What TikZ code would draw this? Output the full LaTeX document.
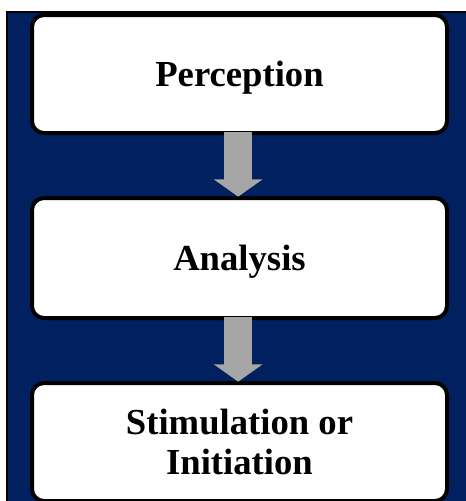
\documentclass[tikz,border=0pt]{standalone}
\usepackage{fontspec}
\setmainfont{Liberation Serif}
\usetikzlibrary{arrows.meta}
\definecolor{navybg}{RGB}{0,32,96}
\definecolor{arrowgray}{RGB}{166,166,166}
\tikzset{
  stagebox/.style={draw=black, fill=white, line width=3pt, rounded corners=9pt,
    minimum width=311.25pt, minimum height=88.5pt, align=center,
    font=\fontsize{27.5}{30}\selectfont\bfseries, inner sep=0pt},
  flowarrow/.style={draw=arrowgray, line width=21pt, line cap=butt,
    -{Triangle[width=36pt,length=13pt]}}
}
\begin{document}
\begin{tikzpicture}[x=0.75pt,y=-0.75pt]
\useasboundingbox (0,0) rectangle (466,501);
\fill[white] (0,0) rectangle (466,501);
\fill[navybg] (7,12) rectangle (466,501);
\draw[black, line width=1.5pt] (7,501) -- (7,12) -- (466,12);
\node[stagebox, text depth=0pt] (b1) at (239.5,74) {Perception};
\node[stagebox, text depth=0pt, minimum height=90pt] (b2) at (239.5,258) {Analysis};
\node[stagebox] (b3) at (239.5,442) {Stimulation or\\Initiation};
\draw[flowarrow] ([xshift=-1pt,yshift=2.5pt]b1.south) -- ([xshift=-1pt,yshift=-0.5pt]b2.north);
\draw[flowarrow] ([xshift=-1pt,yshift=2.5pt]b2.south) -- ([xshift=-1pt,yshift=-0.5pt]b3.north);
\end{tikzpicture}
\end{document}
